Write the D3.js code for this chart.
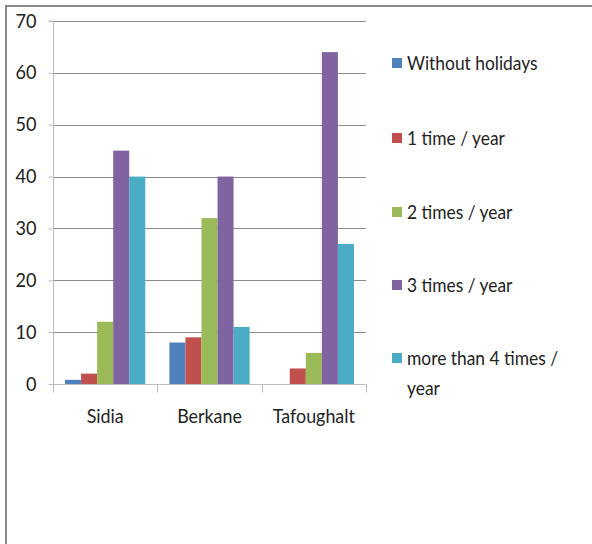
<!DOCTYPE html>
<html>
<head>
<meta charset="utf-8">
<script src="https://cdn.jsdelivr.net/npm/d3@7"></script>
<style>
  html, body { margin: 0; padding: 0; background: #fff; }
  svg { display: block; }
  text { font-family: Lato, "Open Sans", sans-serif; fill: #222; }
</style>
</head>
<body>
<svg id="chart" width="592" height="544"></svg>
<script>
// Holiday frequency by locality (percent)
const localities = ["Sidia", "Berkane", "Tafoughalt"];
const seriesNames = ["Without holidays", "1 time / year", "2 times / year", "3 times / year", "more than 4 times / year"];
const withoutHolidays = [0.8, 8, 0];
const oneTime = [2, 9, 3];
const twoTimes = [12, 32, 6];
const threeTimes = [45, 40, 64];
const moreThanFour = [40, 11, 27];
const yTicks = [0, 10, 20, 30, 40, 50, 60, 70];
const palette = ["#4F81BD", "#C0504D", "#9BBB59", "#8064A2", "#4BACC6"];

const series = [withoutHolidays, oneTime, twoTimes, threeTimes, moreThanFour];
const FONT = 'Lato, "Open Sans", sans-serif';

// Narrow a text run horizontally, keeping its anchor
function condense(sel, k) {
  sel.each(function() {
    const w = this.getComputedTextLength();
    if (w > 0) d3.select(this).attr("textLength", w * k).attr("lengthAdjust", "spacingAndGlyphs");
  });
}

const svg = d3.select("#chart");

// Outer frame (top and left edges)
svg.append("line").attr("x1", 5).attr("x2", 592).attr("y1", 6).attr("y2", 6)
  .attr("stroke", "#8a8a8a").attr("stroke-width", 2);
svg.append("line").attr("x1", 6).attr("x2", 6).attr("y1", 5).attr("y2", 544)
  .attr("stroke", "#8a8a8a").attr("stroke-width", 2);

const plot = { left: 53, right: 366, top: 21, bottom: 384 };

const x0 = d3.scaleBand().domain(localities).range([plot.left, plot.right]).paddingInner(0).paddingOuter(0);
const x1 = d3.scaleBand().domain(d3.range(seriesNames.length))
  .range([0, x0.bandwidth()]).paddingInner(0).paddingOuter(0.75);
const y = d3.scaleLinear().domain([0, 70]).range([plot.bottom, plot.top]);

// Gridlines
svg.append("g").selectAll("line").data(yTicks.filter(t => t > 0)).join("line")
  .attr("x1", plot.left).attr("x2", plot.right)
  .attr("y1", d => Math.round(y(d)) + 0.5).attr("y2", d => Math.round(y(d)) + 0.5)
  .attr("stroke", "#8c8c8c").attr("stroke-width", 1);

// Bars
const groups = svg.append("g").selectAll("g").data(localities).join("g")
  .attr("transform", d => `translate(${x0(d)},0)`);
groups.selectAll("rect")
  .data((d, i) => series.map((s, k) => ({ k, v: s[i] })))
  .join("rect")
  .attr("x", d => x1(d.k))
  .attr("width", x1.bandwidth())
  .attr("y", d => y(d.v))
  .attr("height", d => y(0) - y(d.v))
  .attr("fill", d => palette[d.k]);

// Y axis
const yAxis = d3.axisLeft(y).tickValues(yTicks).tickSize(5).tickPadding(12);
const gy = svg.append("g").attr("transform", `translate(${plot.left + 0.5},0)`).call(yAxis);
gy.select(".domain").attr("stroke", "#bdbdbd").attr("d", `M-5,${plot.top}H0V${plot.bottom}`);
gy.selectAll(".tick line").attr("stroke", "#bdbdbd");
gy.selectAll(".tick text").attr("font-size", 19).attr("fill", "#222").style("font-family", FONT)
  .call(condense, 0.95);

// X axis
const xAxis = d3.axisBottom(x0).tickSize(0).tickPadding(25);
const gx = svg.append("g").attr("transform", `translate(0,${plot.bottom + 0.5})`).call(xAxis);
gx.select(".domain").attr("stroke", "#bdbdbd").attr("d", `M${plot.left},0H${plot.right}`);
gx.selectAll(".tick text").attr("font-size", 19).attr("fill", "#222").style("font-family", FONT)
  .call(condense, 0.94);
// Category separator ticks
const sepX = [plot.left, ...localities.map(d => x0(d) + x0.bandwidth())];
gx.append("g").selectAll("line").data(sepX).join("line")
  .attr("x1", d => Math.round(d) + 0.5).attr("x2", d => Math.round(d) + 0.5)
  .attr("y1", 0).attr("y2", 8).attr("stroke", "#bdbdbd");

// Legend
const legendY = [63, 138, 212, 285, 358];
const legend = svg.append("g").selectAll("g").data(seriesNames).join("g")
  .attr("transform", (d, i) => `translate(392,${legendY[i]})`);
legend.append("rect").attr("x", 0).attr("y", -5).attr("width", 10).attr("height", 10)
  .attr("fill", (d, i) => palette[i]);
legend.each(function(d) {
  const g = d3.select(this);
  const lines = d === "more than 4 times / year" ? ["more than 4 times /", "year"] : [d];
  lines.forEach((ln, j) => {
    g.append("text").attr("x", 15).attr("y", j * 30).attr("dy", "0.35em")
      .attr("font-size", 19).style("font-family", FONT).text(ln)
      .call(condense, 0.915);
  });
});
</script>
</body>
</html>
